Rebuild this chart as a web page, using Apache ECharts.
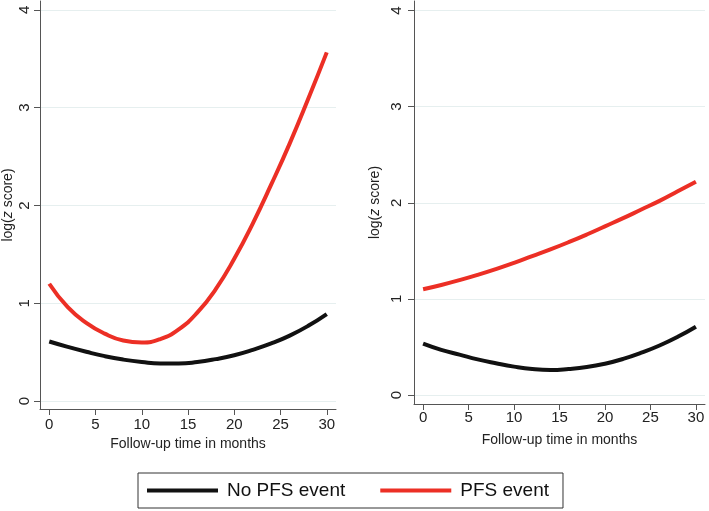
<!DOCTYPE html>
<html>
<head>
<meta charset="utf-8">
<script src="https://cdn.jsdelivr.net/npm/echarts@6/dist/echarts.min.js"></script>
<style>
html,body{margin:0;padding:0;background:#fff;}
#chart{width:709px;height:511px;}
</style>
</head>
<body>
<div id="chart"></div>
<script>
// ---- data ----
var months = [0, 2, 4, 6, 8, 10, 12, 14, 16, 18, 20, 22, 24, 26, 28, 30];
var leftNoEvent = [0.61, 0.555, 0.505, 0.46, 0.425, 0.40, 0.385, 0.385, 0.40, 0.43, 0.47, 0.525, 0.59, 0.67, 0.77, 0.89];
var leftEvent   = [1.20, 0.96, 0.80, 0.69, 0.62, 0.60, 0.635, 0.735, 0.905, 1.145, 1.455, 1.815, 2.215, 2.635, 3.09, 3.565];
var rightNoEvent = [0.535, 0.47, 0.42, 0.37, 0.33, 0.295, 0.27, 0.26, 0.27, 0.29, 0.325, 0.375, 0.44, 0.515, 0.605, 0.71];
var rightEvent   = [1.10, 1.145, 1.195, 1.25, 1.31, 1.375, 1.445, 1.515, 1.59, 1.67, 1.755, 1.84, 1.93, 2.02, 2.12, 2.22];
var xTicks = [0, 5, 10, 15, 20, 25, 30];
var yTicks = [0, 1, 2, 3, 4];
var seriesNames = ['No PFS event', 'PFS event'];
var xTitle = 'Follow-up time in months';

var FONT = '"Liberation Sans", Arial, Helvetica, sans-serif';
var BLACK = '#111111';
var RED = '#ec2f25';

function pairs(xs, ys) { return xs.map(function (x, i) { return [x, ys[i]]; }); }

function xAxisDef(gi, nameGap, margin) {
  return {
    type: 'value', gridIndex: gi, min: -1, max: 31,
    name: xTitle, nameLocation: 'middle', nameGap: nameGap,
    nameTextStyle: { fontFamily: FONT, fontSize: 14, color: '#222' },
    axisLine: { show: true, onZero: false, lineStyle: { color: '#555', width: 1 } },
    axisTick: { show: true, length: 6, customValues: xTicks, lineStyle: { color: '#555' } },
    axisLabel: { customValues: xTicks, margin: margin, fontFamily: FONT, fontSize: 15, color: '#222' },
    splitLine: { show: false }
  };
}
function yAxisDef(gi, min, max, nameGap, margin) {
  return {
    type: 'value', gridIndex: gi, min: min, max: max,
    name: '{n|log(}{i|z}{n| score)}', nameLocation: 'middle', nameGap: nameGap, nameRotate: 90,
    nameTextStyle: { fontFamily: FONT, fontSize: 14, color: '#222',
      rich: { n: { fontFamily: FONT, fontSize: 14, color: '#222' },
              i: { fontFamily: FONT, fontSize: 14, color: '#222', fontStyle: 'italic' } } },
    axisLine: { show: true, onZero: false, lineStyle: { color: '#555', width: 1 } },
    axisTick: { show: true, length: 6, customValues: yTicks, lineStyle: { color: '#555' } },
    axisLabel: { customValues: yTicks, rotate: 90, margin: margin, fontFamily: FONT, fontSize: 15, color: '#222' },
    splitLine: { show: true, lineStyle: { color: '#e6efef', width: 1 } }
  };
}
function lineSeries(name, gi, ys, color) {
  return {
    type: 'line', name: name, xAxisIndex: gi, yAxisIndex: gi,
    data: pairs(months, ys), smooth: true, showSymbol: false, symbol: 'none',
    lineStyle: { color: color, width: 4 }, itemStyle: { color: color }
  };
}

var chart = echarts.init(document.getElementById('chart'), null, { renderer: 'canvas' });
chart.setOption({
  backgroundColor: '#ffffff',
  animation: false,
  grid: [
    { left: 39, top: 1, width: 297, height: 408 },
    { left: 414, top: 1, width: 291, height: 403 }
  ],
  xAxis: [xAxisDef(0, 25, 8), xAxisDef(1, 29, 6)],
  yAxis: [yAxisDef(0, -0.08, 4.09, 25, 8), yAxisDef(1, -0.094, 4.1, 32, 10)],
  legend: {
    data: seriesNames, left: 138, top: 473,
    icon: 'rect', itemWidth: 71, itemHeight: 4, itemGap: 35,
    padding: [8, 14, 8, 9],
    borderColor: '#333', borderWidth: 1, borderRadius: 0,
    textStyle: { fontFamily: FONT, fontSize: 19, color: '#111', padding: [0, 0, 0, 4] }
  },
  series: [
    lineSeries(seriesNames[0], 0, leftNoEvent, BLACK),
    lineSeries(seriesNames[1], 0, leftEvent, RED),
    lineSeries(seriesNames[0], 1, rightNoEvent, BLACK),
    lineSeries(seriesNames[1], 1, rightEvent, RED)
  ]
});
</script>
</body>
</html>
